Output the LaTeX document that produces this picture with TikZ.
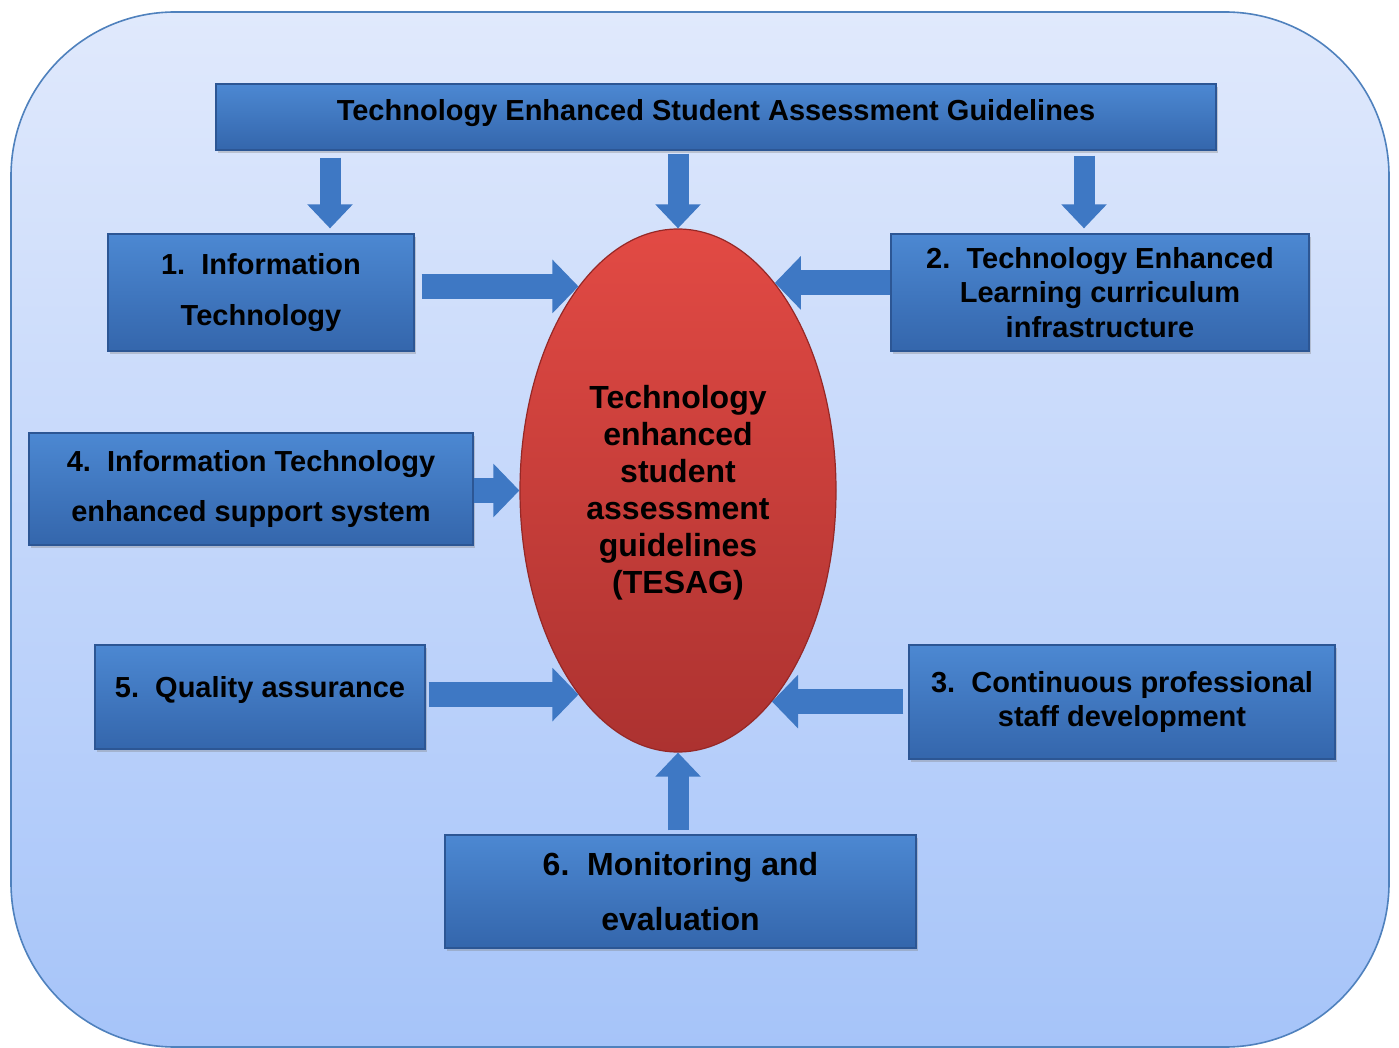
\documentclass[tikz,border=0pt]{standalone}
\usepackage{fontspec}
\setmainfont{Liberation Sans}
\usetikzlibrary{shapes.geometric,arrows.meta,shadows}
\definecolor{panelline}{RGB}{79,129,189}
\definecolor{paneltop}{RGB}{224,233,252}
\definecolor{panelbot}{RGB}{166,196,249}
\definecolor{boxtop}{RGB}{76,136,210}
\definecolor{boxbot}{RGB}{52,102,172}
\definecolor{boxline}{RGB}{44,86,148}
\definecolor{arrowblue}{RGB}{62,120,196}
\definecolor{ovaltop}{RGB}{226,74,68}
\definecolor{ovalbot}{RGB}{172,50,48}
\definecolor{ovalline}{RGB}{150,40,38}

\begin{document}
\begin{tikzpicture}[x=0.5pt, y=-0.5pt,
    panel/.style={draw=panelline, line width=0.8pt, top color=paneltop, bottom color=panelbot, rounded corners=82pt},
    bluebox/.style={rectangle, draw=boxline, line width=0.6pt, top color=boxtop, bottom color=boxbot, align=center, inner sep=2pt, font=\bfseries\fontsize{14.5}{17.4}\selectfont, drop shadow={opacity=0.35, shadow xshift=1pt, shadow yshift=-1.5pt}},
    redoval/.style={ellipse, draw=ovalline, line width=0.6pt, top color=ovaltop, bottom color=ovalbot, minimum width=158pt, minimum height=261.5pt, inner sep=0pt, align=center, font=\bfseries\fontsize{16}{18.5}\selectfont},
    blockarrow/.style={draw=arrowblue, line width=12.5pt, -{Triangle[width=26pt,length=13pt]}},
    thinarrow/.style={draw=arrowblue, line width=10.5pt, -{Triangle[width=22pt,length=12pt]}}
    ]
    \useasboundingbox (0,0) rectangle (1399,1048);
    \path[panel] (11,12) rectangle (1389,1047);

    %Nodes
    \node[redoval, text depth=1pt] (ell) at (678,490.5) {Technology\\enhanced\\student\\assessment\\guidelines\\(TESAG)};
    \node[bluebox, minimum width=500pt, minimum height=33pt, text depth=7pt] (top) at (716,117) {Technology Enhanced Student Assessment Guidelines};
    \node[bluebox, minimum width=153pt, minimum height=58.5pt] (box1) at (261,292.5) {1.\ \ Information\\[8pt]Technology};
    \node[bluebox, minimum width=209pt, minimum height=58.5pt] (box2) at (1100,292.5) {2.\ \ Technology Enhanced\\Learning curriculum\\infrastructure};
    \node[bluebox, minimum width=222pt, minimum height=56pt] (box4) at (251,489) {4.\ \ Information Technology\\[8pt]enhanced support system};
    \node[bluebox, minimum width=165pt, minimum height=52pt, text depth=10pt] (box5) at (260,697) {5.\ \ Quality assurance};
    \node[bluebox, minimum width=213pt, minimum height=57pt] (box3) at (1122,702) {3.\ \ Continuous professional\\staff development};
    \node[bluebox, minimum width=235.5pt, minimum height=56.5pt, font=\bfseries\fontsize{16}{19.2}\selectfont] (box6) at (680.5,891.5) {6.\ \ Monitoring and\\[8pt]evaluation};

    %Lines
    \draw[thinarrow, shorten <=3.5pt, shorten >=2.5pt] ([xshift=-193pt]top.south) -- ([xshift=34.5pt]box1.north);
    \draw[thinarrow, shorten <=1.5pt] (top.south -| ell.north) -- (ell.north);
    \draw[thinarrow, shorten <=2.5pt, shorten >=2.5pt] ([xshift=184pt]top.south) -- ([xshift=-8pt]box2.north);
    \draw[blockarrow, shorten <=3.5pt] (box1.east |- ell.116) -- (ell.116);
    \draw[blockarrow] (box2.west |- ell.65) -- (ell.65);
    \draw[blockarrow] (box4.east |- ell.west) -- (ell.west);
    \draw[blockarrow, shorten <=1.5pt] (box5.east |- ell.244) -- (ell.244);
    \draw[blockarrow, shorten <=2.5pt] (box3.west |- ell.294) -- (ell.294);
    \draw[thinarrow, shorten <=2pt] (box6.north -| ell.south) -- (ell.south);
\end{tikzpicture}
\end{document}
